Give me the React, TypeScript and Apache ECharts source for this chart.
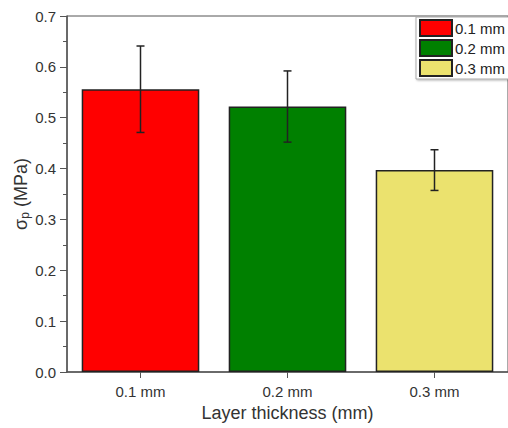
import React, { useEffect, useRef } from "react";
import * as echarts from "echarts";

const categories = ["0.1 mm", "0.2 mm", "0.3 mm"];
const seriesNames = ["0.1 mm", "0.2 mm", "0.3 mm"];
const means = [0.556, 0.522, 0.397];
const errors = [0.085, 0.07, 0.04];
const colors = ["#ff0000", "#008000", "#ebe26e"];
const yTicks = [0, 0.1, 0.2, 0.3, 0.4, 0.5, 0.6, 0.7];

export default function App() {
  const ref = useRef<HTMLDivElement>(null);
  useEffect(() => {
    if (!ref.current) return;
    const chart = echarts.init(ref.current, null, { renderer: "svg" });
    const font = "Liberation Sans, Arial, sans-serif";
    const barSeries = seriesNames.map((name, i) => ({
      name,
      type: "bar",
      stack: "all",
      barWidth: "80%",
      data: categories.map((_, j) => (j === i ? means[i] : null)),
      itemStyle: { color: colors[i], borderColor: "#222", borderWidth: 1.5 },
    }));
    const errData = means.map((m, i) => [i, m - errors[i], m + errors[i]]);
    chart.setOption({
      animation: false,
      textStyle: { fontFamily: font },
      grid: {
        left: 67,
        right: 0,
        top: 16,
        bottom: 56,
        containLabel: false,
        outerBoundsMode: "none",
        show: true,
        borderColor: "#555",
        borderWidth: 1,
        backgroundColor: "transparent",
      },
      legend: {
        orient: "vertical",
        left: 416,
        top: 17,
        itemWidth: 32,
        itemHeight: 16,
        itemGap: 2,
        padding: [2, 8, 2, 3],
        borderColor: "#aaa",
        borderWidth: 1,
        backgroundColor: "#fff",
        shadowColor: "rgba(0,0,0,0.3)",
        shadowBlur: 2,
        shadowOffsetX: 1,
        shadowOffsetY: 1,
        icon: "rect",
        data: seriesNames,
        textStyle: { fontSize: 15, color: "#222", fontFamily: font, padding: [0, 0, 0, -2] },
      },
      xAxis: {
        type: "category",
        data: categories,
        name: "Layer thickness (mm)",
        nameLocation: "middle",
        nameGap: 30,
        nameTextStyle: { fontSize: 18, color: "#333", fontFamily: font },
        axisLine: { lineStyle: { color: "#555", width: 1.5 } },
        axisTick: { show: true, alignWithLabel: true, length: 6, lineStyle: { color: "#555" } },
        axisLabel: { fontSize: 15, color: "#333", margin: 12, fontFamily: font },
      },
      yAxis: {
        type: "value",
        min: 0,
        max: 0.7,
        interval: 0.1,
        name: "{s|σ}{sub|p}{s| (MPa)}",
        nameLocation: "middle",
        nameMoveOverlap: false,
        nameGap: 36,
        nameTextStyle: {
          rich: {
            s: { fontSize: 18, color: "#333", fontFamily: font },
            sub: { fontSize: 12, color: "#333", fontFamily: font, verticalAlign: "bottom", padding: [9, 0, 0, 0] },
          },
        },
        axisLine: { show: true, lineStyle: { color: "#555", width: 1.5 } },
        axisTick: { show: true, length: 7, lineStyle: { color: "#555" } },
        minorTick: { show: true, splitNumber: 2, length: 4, lineStyle: { color: "#555" } },
        splitLine: { show: false },
        axisLabel: {
          fontSize: 15,
          color: "#333",
          margin: 11,
          fontFamily: font,
          formatter: (v: number) => {
            const t = yTicks.find((x) => Math.abs(x - v) < 1e-6);
            return (t !== undefined ? t : v).toFixed(1);
          },
        },
      },
      series: [
        ...barSeries,
        {
          type: "custom",
          name: "err",
          data: errData,
          z: 10,
          renderItem: (params: any, api: any) => {
            const x = api.value(0);
            const lo = api.coord([x, api.value(1)]);
            const hi = api.coord([x, api.value(2)]);
            const cap = 4;
            const style = { stroke: "#222", lineWidth: 1.5 };
            return {
              type: "group",
              children: [
                { type: "line", shape: { x1: hi[0], y1: hi[1], x2: lo[0], y2: lo[1] }, style },
                { type: "line", shape: { x1: hi[0] - cap, y1: hi[1], x2: hi[0] + cap, y2: hi[1] }, style },
                { type: "line", shape: { x1: lo[0] - cap, y1: lo[1], x2: lo[0] + cap, y2: lo[1] }, style },
              ],
            };
          },
        },
      ],
    });
    return () => chart.dispose();
  }, []);
  return <div ref={ref} style={{ position: "fixed", left: 0, top: 0, width: 508, height: 428, background: "#fff" }} />;
}
